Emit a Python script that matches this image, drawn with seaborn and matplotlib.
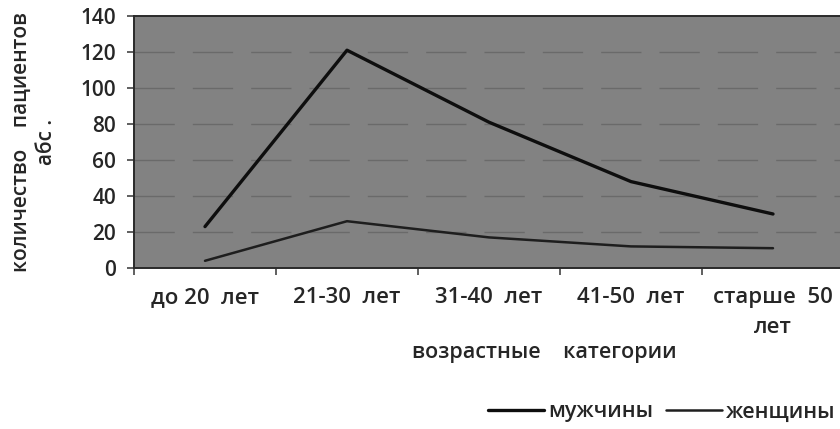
import matplotlib
matplotlib.use("Agg")
import matplotlib.pyplot as plt
import seaborn as sns
import pandas as pd
import numpy as np
from matplotlib.ticker import FixedLocator
from matplotlib.lines import Line2D

categories = ["до 20  лет", "21-30  лет", "31-40  лет", "41-50  лет", "старше  50\nлет"]
men = [23, 121, 81, 48, 30]
women = [4, 26, 17, 12, 11]
series_names = ["мужчины", "женщины"]
y_ticks = [0, 20, 40, 60, 80, 100, 120, 140]

sns.set_theme(style="white")
plt.rcParams['font.family'] = ['Open Sans', 'DejaVu Sans']
plt.rcParams['font.weight'] = 'semibold'
plt.rcParams['axes.labelweight'] = 'semibold'

df = pd.DataFrame({
    "val": men + women,
    "sex": [series_names[0]] * len(categories) + [series_names[1]] * len(categories),
})
df["pos"] = list(range(len(categories))) * 2

fig = plt.figure(figsize=(8.4, 4.29), dpi=100)
ax = fig.add_axes([134/840, 1-268/429, (844-134)/840, (268-16)/429])
ax.set_facecolor("#828282")

sns.lineplot(data=df, x="pos", y="val", hue="sex", size="sex",
             palette={"мужчины": "#0e0e0e", "женщины": "#1e1e1e"},
             sizes={"мужчины": 2.4, "женщины": 1.8}, ax=ax, legend=False)

ax.set_xlim(-0.5, len(categories) - 0.5)
ax.set_ylim(0, 140)
ax.set_yticks(y_ticks)
for y in y_ticks[1:-1]:
    ax.axhline(y, color="#6a6a6a", lw=1.0, ls=(0, (29, 13)), zorder=0.5)

ax.xaxis.set_major_locator(FixedLocator(np.arange(-0.5, len(categories), 1.0)))
ax.xaxis.set_minor_locator(FixedLocator(np.arange(len(categories))))
ax.set_xticklabels([""] * len(ax.get_xticks()))
ax.set_xticklabels(categories, minor=True, fontsize=16, linespacing=1.55)
ax.tick_params(axis="x", which="major", length=5, width=1.2, color="#444444", direction="out", bottom=True)
ax.tick_params(axis="x", which="minor", length=0, pad=14)
ax.tick_params(axis="y", length=5, width=1.2, color="#444444", direction="out", left=True, labelsize=15, pad=8)

for s in ["left", "bottom", "top"]:
    ax.spines[s].set_color("#2a2a2a")
    ax.spines[s].set_linewidth(1.4)
ax.spines["right"].set_visible(False)

ax.set_xlabel("возрастные    категории", fontsize=15.5)
ax.xaxis.set_label_coords(0.578, -0.295)
ax.set_ylabel("количество    пациентов\nабс .", fontsize=15, linespacing=1.25)
ax.yaxis.set_label_coords(-0.108, 0.5)

handles = [Line2D([], [], color="#0e0e0e", lw=2.4), Line2D([], [], color="#1e1e1e", lw=1.8)]
fig.legend(handles, series_names, loc="lower right", bbox_to_anchor=(1.018, -0.03), ncol=2,
           frameon=False, fontsize=15.5, handlelength=2.6, handletextpad=0.2, columnspacing=0.6)

fig.savefig("out.png", dpi=100, facecolor="white")
